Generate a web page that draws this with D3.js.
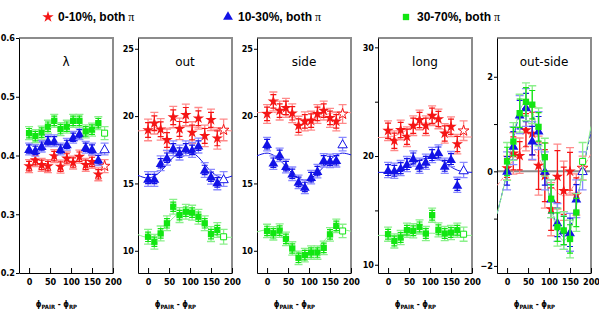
<!DOCTYPE html>
<html><head><meta charset="utf-8">
<script src="https://cdn.jsdelivr.net/npm/d3@7"></script>
<style>body{margin:0;background:#fff}svg{display:block}</style>
</head><body>
<svg id="c" width="599" height="325"></svg>
<script>
// ---------- data ----------
const phiBins = [0,15,30,45,60,75,90,105,120,135,150,165];
const phiReflected = 180; // open marker: reflection of the first bin
const seriesNames = ["0-10%, both π", "10-30%, both π", "30-70%, both π"];
const panelTitles = ["λ", "out", "side", "long", "out-side"];
const xTicks = [0,50,100,150,200];

const lambda_0_10  = [0.382,0.392,0.384,0.382,0.399,0.381,0.395,0.388,0.398,0.384,0.389,0.368];
const lambda_10_30 = [0.411,0.409,0.416,0.425,0.425,0.411,0.419,0.431,0.437,0.414,0.411,0.393];
const lambda_30_70 = [0.438,0.433,0.439,0.449,0.459,0.445,0.449,0.459,0.459,0.441,0.444,0.455];

const out_0_10  = [18.97,19.47,19.02,18.23,19.92,19.05,20.09,18.78,19.84,18.53,19.72,18.35];
const out_10_30 = [15.33,15.33,16.50,16.91,17.61,17.29,17.61,17.49,17.81,16.00,15.50,15.08];
const out_30_70 = [11.04,10.67,11.29,12.04,13.27,12.65,12.90,12.83,12.53,12.04,11.24,11.54];

const side_0_10  = [20.16,21.09,20.41,20.61,20.21,19.29,19.61,19.66,20.16,20.41,19.87,19.61];
const side_10_30 = [17.92,16.54,17.12,16.29,15.72,15.12,14.74,15.47,15.92,16.72,16.67,16.72];
const side_30_70 = [11.47,11.30,11.50,10.88,10.17,9.48,9.68,9.87,9.87,10.22,11.22,11.85];

const long_0_10  = [22.33,21.41,22.40,21.78,22.79,23.32,22.79,23.71,23.41,22.08,22.70,21.10];
const long_10_30 = [18.71,18.65,18.89,19.26,19.78,19.10,19.47,20.09,20.33,19.10,19.72,17.35];
const long_30_70 = [12.81,12.19,12.50,13.18,13.12,13.48,12.87,14.56,13.21,12.87,12.96,13.18];

const os_0_10  = [0.07,0.38,0.33,0.87,0.80,0.12,-0.09,-0.80,-0.11,-0.41,0.00,-0.49];
const os_10_30 = [0.01,0.54,1.20,1.35,0.65,0.86,0.01,-0.58,-1.08,-1.25,-1.29,-0.58];
const os_30_70 = [0.21,0.63,1.23,1.47,1.41,0.94,0.30,-0.58,-1.18,-1.25,-1.43,-0.87];

// statistical / systematic errors per centrality class
const statErr_lambda = [0.008,0.007,0.008], sysErr_lambda = [0.011,0.010,0.011];
const statErr_out  = [0.55,0.35,0.35], sysErr_out  = [0.80,0.55,0.55];
const statErr_side = [0.50,0.35,0.35], sysErr_side = [0.70,0.50,0.50];
const statErr_long = [0.70,0.50,0.45], sysErr_long = [0.90,0.70,0.65];
const statErr_os_0_10 = [0.20,0.35,0.30,0.35,0.45,0.50,0.55,0.45,0.55,0.50,0.40,0.35];
const statErr_os = [null,0.30,0.30], sysErr_os = [0.15,0.40,0.40];

// fit curves
const fitPhi = [-24,0,15,30,45,60,75,90,105,120,135,150,165,180,200];
const fitOut_0_10  = [18.90,18.95,19.00,19.05,19.10,19.15,19.20,19.22,19.20,19.15,19.10,19.05,19.00,18.95,18.90];
const fitOut_10_30 = [15.60,15.40,15.55,15.90,16.40,16.95,17.30,17.45,17.30,16.95,16.40,15.90,15.55,15.40,15.55];
const fitOut_30_70 = [11.20,11.00,11.10,11.45,11.95,12.45,12.80,12.90,12.80,12.45,11.95,11.45,11.10,11.00,11.00];
const fitSide_0_10  = [20.25,20.30,20.28,20.20,20.05,19.90,19.80,19.75,19.80,19.90,20.05,20.20,20.28,20.30,20.25];
const fitSide_10_30 = [17.05,17.25,17.10,16.75,16.25,15.75,15.40,15.25,15.40,15.75,16.25,16.75,17.10,17.25,17.12];
const fitSide_30_70 = [11.40,11.55,11.45,11.20,10.70,10.20,9.85,9.75,9.85,10.20,10.70,11.20,11.45,11.55,11.45];
const fitLong_0_10  = [21.70,21.75,21.85,22.10,22.40,22.70,22.95,23.05,22.95,22.70,22.40,22.10,21.85,21.75,21.75];
const fitLong_10_30 = [18.50,18.50,18.55,18.75,19.00,19.30,19.60,19.80,19.85,19.70,19.40,19.00,18.70,18.55,18.50];
const fitLong_30_70 = [12.70,12.70,12.70,12.75,12.80,12.85,12.90,12.90,12.90,12.85,12.80,12.75,12.70,12.70,12.70];
const fitOs_0_10  = [-0.30,0.00,0.27,0.45,0.55,0.50,0.30,0.03,-0.25,-0.45,-0.52,-0.42,-0.20,0.05,0.37];
const fitOs_10_30 = [-0.90,0.00,0.70,1.20,1.38,1.20,0.70,0.00,-0.70,-1.20,-1.38,-1.20,-0.70,0.00,0.85];
const fitOs_30_70 = [-0.90,0.00,0.75,1.28,1.46,1.28,0.75,0.00,-0.75,-1.28,-1.46,-1.28,-0.75,0.00,0.95];

// axis ranges and ticks
const yDomains = [[0.2,0.6],[8.35,25.8],[8.35,25.8],[9.24,30.86],[-2.15,2.82]];
const yMajorTicks = [[0.2,0.3,0.4,0.5,0.6],[10,15,20,25],[10,15,20,25],[10,20,30],[-2,0,2]];
const yMinorTicks = [[],[],[],[15,25],[-1,1]];

// ---------- assembly ----------
const colors = ["#f51515","#1212e6","#12e612"];
const pale   = ["#ff8a8a","#8a8aff","#8af08a"];
const symbols = [d3.symbolStar, d3.symbolTriangle, d3.symbolSquare];
const symSize = [40, 42, 40];

const panelVals = [
  [lambda_0_10, lambda_10_30, lambda_30_70],
  [out_0_10, out_10_30, out_30_70],
  [side_0_10, side_10_30, side_30_70],
  [long_0_10, long_10_30, long_30_70],
  [os_0_10, os_10_30, os_30_70]
];
const panelStat = [
  [0,1,2].map(i=>phiBins.map(()=>statErr_lambda[i])),
  [0,1,2].map(i=>phiBins.map(()=>statErr_out[i])),
  [0,1,2].map(i=>phiBins.map(()=>statErr_side[i])),
  [0,1,2].map(i=>phiBins.map(()=>statErr_long[i])),
  [statErr_os_0_10, phiBins.map(()=>statErr_os[1]), phiBins.map(()=>statErr_os[2])]
];
const panelSys = [sysErr_lambda, sysErr_out, sysErr_side, sysErr_long, sysErr_os];
const panelFits = [null,
  [fitOut_0_10, fitOut_10_30, fitOut_30_70],
  [fitSide_0_10, fitSide_10_30, fitSide_30_70],
  [fitLong_0_10, fitLong_10_30, fitLong_30_70],
  [fitOs_0_10, fitOs_10_30, fitOs_30_70]];

const svg = d3.select("#c");
const panelLeft = [19,138,257,378,497];
const pw = 94, plotTop = 38, plotBottom = 273;
const tickFont = "'Liberation Sans Narrow','Arial Narrow','DejaVu Sans Condensed',sans-serif";

panelLeft.forEach((left, p) => {
  const x = d3.scaleLinear().domain([-24,200]).range([left, left+pw]);
  const y = d3.scaleLinear().domain(yDomains[p]).range([plotBottom, plotTop]);
  const g = svg.append("g");

  g.append("clipPath").attr("id","clip"+p).append("rect")
    .attr("x",left).attr("y",plotTop).attr("width",pw).attr("height",plotBottom-plotTop);

  g.append("path").attr("d",`M${left},${plotTop}H${left+pw}V${plotBottom}`)
    .attr("fill","none").attr("stroke","#8c8c8c").attr("stroke-width",2);

  if (p === 4) {
    g.append("line").attr("x1",left).attr("x2",left+pw).attr("y1",y(0)).attr("y2",y(0))
      .attr("stroke","#8c8c8c").attr("stroke-width",2);
  }

  const xa = g.append("g").attr("transform",`translate(0,${plotBottom})`)
    .call(d3.axisBottom(x).tickValues(xTicks).tickSize(-5).tickSizeOuter(0).tickPadding(6));
  xa.select(".domain").attr("stroke","#000");
  xa.selectAll("text").attr("font-family",tickFont).attr("font-weight","bold").attr("font-size",9).attr("fill","#000");

  const ya = g.append("g").attr("transform",`translate(${left},0)`)
    .call(d3.axisLeft(y).tickValues(yMajorTicks[p]).tickSize(3).tickSizeOuter(0).tickPadding(1)
      .tickFormat(p===0 ? d3.format(".1f") : d3.format("d")));
  ya.select(".domain").attr("stroke","#000");
  ya.selectAll("text").attr("font-family",tickFont).attr("font-weight","bold").attr("font-size",9).attr("fill","#000");
  if (yMinorTicks[p].length) {
    g.append("g").attr("transform",`translate(${left},0)`)
      .call(d3.axisLeft(y).tickValues(yMinorTicks[p]).tickSize(3).tickFormat(""))
      .select(".domain").remove();
  }

  g.append("text").attr("x",left+pw/2).attr("y",66).attr("text-anchor","middle")
    .attr("font-family","'DejaVu Sans',sans-serif").attr("font-size",12).attr("fill","#000")
    .text(panelTitles[p]);

  const lab = g.append("text").attr("x",x(65)).attr("y",307).attr("text-anchor","middle")
    .attr("font-family",tickFont).attr("font-weight","bold").attr("font-size",8).attr("fill","#000");
  lab.append("tspan").text("ϕ");
  lab.append("tspan").attr("dy",2).attr("font-size",6).text("PAIR");
  lab.append("tspan").attr("dy",-2).text(" - ϕ");
  lab.append("tspan").attr("dy",2).attr("font-size",6).text("RP");

  if (panelFits[p]) {
    const line = d3.line().x((d,i)=>x(fitPhi[i])).y(d=>y(d)).curve(d3.curveMonotoneX);
    panelFits[p].forEach((f,s) => {
      g.append("path").attr("d",line(f)).attr("clip-path",`url(#clip${p})`)
        .attr("fill","none").attr("stroke", s===1 ? colors[1] : pale[s])
        .attr("stroke-width",1)
        .attr("stroke-dasharray", (p===4 && s!==2) ? "4,2" : null);
    });
  }

  [0,1,2].forEach(s => {
    const vals = panelVals[p][s];
    const stat = panelStat[p][s];
    const sys = panelSys[p][s];
    const pts = phiBins.map((phi,i)=>({phi, v: vals[i], e: stat[i], sy: Math.max(sys, stat[i]*1.25), open:false}));
    pts.push({phi: phiReflected, v: vals[0], e: stat[0], sy: Math.max(sys, stat[0]*1.25), open:true});
    const pg = g.append("g");
    pts.forEach(d => {
      const cx = x(d.phi);
      pg.append("path").attr("d",
        `M${cx},${y(d.v-d.sy)}V${y(d.v+d.sy)}M${cx-4},${y(d.v-d.sy)}H${cx+4}M${cx-4},${y(d.v+d.sy)}H${cx+4}`)
        .attr("stroke",pale[s]).attr("stroke-width",1.3).attr("fill","none");
      if (!d.open) {
        pg.append("path").attr("d",
          `M${cx},${y(d.v-d.e)}V${y(d.v+d.e)}M${cx-3},${y(d.v-d.e)}H${cx+3}M${cx-3},${y(d.v+d.e)}H${cx+3}`)
          .attr("stroke",colors[s]).attr("stroke-width",1.2).attr("fill","none");
      }
      pg.append("path").attr("transform",`translate(${cx},${y(d.v) + (s===1?1:0)})`)
        .attr("d", d3.symbol().type(symbols[s]).size(d.open ? symSize[s]*0.9 : symSize[s])())
        .attr("fill", d.open ? "#fff" : colors[s])
        .attr("stroke", d.open ? colors[s] : "none").attr("stroke-width",1);
    });
  });
});

const legendX = [48, 228, 406];
const legendTextX = [58, 238, 417];
seriesNames.forEach((name, s) => {
  svg.append("path").attr("transform",`translate(${legendX[s]},${17})`)
    .attr("d", d3.symbol().type(symbols[s]).size(symSize[s])()).attr("fill", colors[s]);
  const t = svg.append("text").attr("x",legendTextX[s]).attr("y",21)
    .attr("font-family","'Liberation Sans',Arial,sans-serif").attr("font-weight","bold")
    .attr("font-size",12).attr("fill","#000");
  t.append("tspan").text(name.replace(" π",""));
  t.append("tspan").attr("font-family","'Liberation Serif',serif").attr("font-weight","normal").text(" π");
});
</script>
</body></html>
